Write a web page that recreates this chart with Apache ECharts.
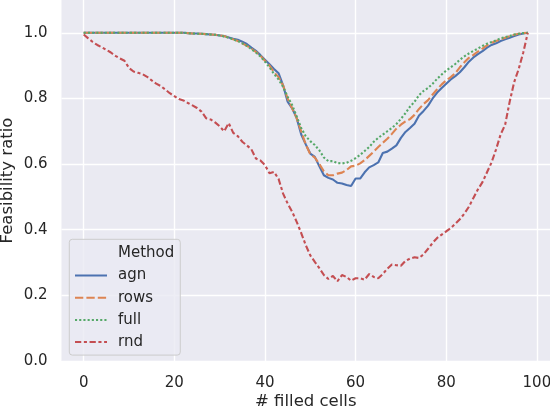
<!DOCTYPE html>
<html>
<head>
<meta charset="utf-8">
<script src="https://cdn.jsdelivr.net/npm/echarts@6/dist/echarts.min.js"></script>
<style>
html,body{margin:0;padding:0;background:#ffffff;}
#chart{width:550px;height:410px;}
</style>
</head>
<body>
<div id="chart"></div>
<script>
// # filled cells (0..98)
const cells = Array.from({length: 99}, (_, i) => i);

const agn = [
  1,1,1,1,1,1,1,1,1,1,
  1,1,1,1,1,1,1,1,1,1,
  1,1,1,0.999,0.998,0.998,0.997,0.996,0.995,0.994,
  0.992,0.99,0.986,0.982,0.979,0.973,0.966,0.955,0.945,0.932,
  0.918,0.904,0.89,0.877,0.84,0.79,0.77,0.74,0.69,0.66,
  0.632,0.622,0.593,0.566,0.558,0.553,0.543,0.541,0.536,0.533,
  0.556,0.556,0.575,0.59,0.597,0.605,0.634,0.638,0.647,0.657,
  0.68,0.698,0.71,0.723,0.748,0.762,0.778,0.8,0.818,0.832,
  0.845,0.858,0.868,0.88,0.895,0.912,0.925,0.935,0.944,0.955,
  0.963,0.968,0.975,0.98,0.985,0.99,0.995,0.998,1.0
];
const rows = [
  1,1,1,1,1,1,1,1,1,1,
  1,1,1,1,1,1,1,1,1,1,
  1,1,1,0.999,0.998,0.997,0.997,0.996,0.995,0.994,
  0.992,0.99,0.985,0.98,0.975,0.968,0.96,0.952,0.942,0.93,
  0.915,0.9,0.88,0.865,0.84,0.8,0.77,0.74,0.7,0.66,
  0.63,0.62,0.6,0.578,0.566,0.566,0.571,0.574,0.582,0.593,
  0.595,0.602,0.612,0.625,0.638,0.652,0.665,0.677,0.692,0.708,
  0.72,0.73,0.737,0.75,0.768,0.783,0.795,0.812,0.828,0.843,
  0.855,0.865,0.877,0.895,0.91,0.924,0.933,0.943,0.952,0.962,
  0.97,0.975,0.98,0.985,0.99,0.994,0.997,0.999,1.0
];
const full = [
  1,1,1,1,1,1,1,1,1,1,
  1,1,1,1,1,1,1,1,1,1,
  1,1,1,0.999,0.998,0.997,0.997,0.996,0.995,0.994,
  0.992,0.989,0.985,0.98,0.975,0.968,0.96,0.95,0.94,0.928,
  0.912,0.895,0.875,0.858,0.835,0.805,0.78,0.745,0.71,0.685,
  0.67,0.658,0.642,0.62,0.609,0.609,0.603,0.602,0.604,0.61,
  0.618,0.628,0.64,0.652,0.668,0.68,0.69,0.7,0.71,0.722,
  0.738,0.755,0.775,0.79,0.81,0.823,0.832,0.845,0.86,0.873,
  0.885,0.895,0.905,0.918,0.928,0.937,0.945,0.952,0.96,0.967,
  0.972,0.977,0.983,0.987,0.99,0.995,0.997,0.999,1.0
];
const rnd = [
  0.995,0.983,0.972,0.963,0.956,0.948,0.94,0.93,0.922,0.915,
  0.893,0.882,0.878,0.874,0.866,0.855,0.845,0.838,0.827,0.816,
  0.807,0.798,0.794,0.786,0.779,0.771,0.76,0.74,0.736,0.727,
  0.715,0.7,0.725,0.695,0.685,0.668,0.657,0.645,0.617,0.611,
  0.597,0.572,0.576,0.555,0.51,0.48,0.455,0.424,0.39,0.353,
  0.322,0.302,0.283,0.262,0.25,0.259,0.243,0.262,0.256,0.245,
  0.252,0.252,0.248,0.265,0.256,0.252,0.265,0.281,0.294,0.292,
  0.29,0.305,0.312,0.316,0.314,0.325,0.342,0.36,0.375,0.385,
  0.395,0.405,0.418,0.432,0.449,0.47,0.497,0.523,0.545,0.575,
  0.605,0.645,0.69,0.72,0.79,0.85,0.89,0.94,1.0
];

const xTicks = [0, 20, 40, 60, 80, 100];
const yTicks = [0, 0.2, 0.4, 0.6, 0.8, 1.0];
const seriesNames = ['agn', 'rows', 'full', 'rnd'];
const seriesValues = [agn, rows, full, rnd];
const colors = ['#4C72B0', '#DD8452', '#55A868', '#C44E52'];
const dashes = ['solid', [8.3, 3.1], [2.1, 2.1], [6.25, 2.6, 3.1, 2.6]];

const textColor = '#262626';
const font = 'DejaVu Sans';

const series = [{ name: 'Method', type: 'line', data: [], symbol: 'none', showSymbol: false, color: 'rgba(0,0,0,0)' }];
seriesValues.forEach((vals, k) => {
  series.push({
    name: seriesNames[k],
    type: 'line',
    data: cells.map((c, i) => [c, vals[i]]),
    symbol: 'none',
    showSymbol: false,
    color: colors[k],
    lineStyle: { color: colors[k], width: 2.1, type: dashes[k], cap: 'butt' },
    z: 2 + k
  });
});

const legendData = [{ name: 'Method', icon: 'none' }].concat(seriesNames.map(n => ({ name: n })));

const chart = echarts.init(document.getElementById('chart'), null, { renderer: 'canvas' });
chart.setOption({
  backgroundColor: '#ffffff',
  animation: false,
  color: colors,
  grid: { left: 61.5, right: 0, top: 0, bottom: 49, show: true, backgroundColor: '#EAEAF2', borderWidth: 0,
          containLabel: false, outerBoundsMode: 'none' },
  xAxis: {
    type: 'value',
    min: -4.9,
    max: 102.9,
    name: '# filled cells',
    nameLocation: 'middle',
    nameGap: 32,
    nameMoveOverlap: false,
    nameTextStyle: { fontFamily: font, fontSize: 16.5, color: textColor },
    axisLine: { show: false },
    axisTick: { show: false, customValues: xTicks },
    axisLabel: { customValues: xTicks, fontFamily: font, fontSize: 15, color: textColor, margin: 15 },
    splitLine: { show: true, lineStyle: { color: '#ffffff', width: 1.4 } }
  },
  yAxis: {
    type: 'value',
    min: 0,
    max: 1.1,
    name: 'Feasibility ratio',
    nameLocation: 'middle',
    nameGap: 45,
    nameMoveOverlap: false,
    nameTextStyle: { fontFamily: font, fontSize: 16.5, color: textColor },
    axisLine: { show: false },
    axisTick: { show: false, customValues: yTicks },
    axisLabel: { customValues: yTicks, fontFamily: font, fontSize: 15, color: textColor, margin: 14,
      formatter: v => v.toFixed(1) },
    splitLine: { show: true, lineStyle: { color: '#ffffff', width: 1.4 } }
  },
  legend: {
    show: true,
    orient: 'vertical',
    left: 69.3,
    top: 239.3,
    data: legendData,
    selectedMode: false,
    itemWidth: 32,
    itemHeight: 16,
    itemGap: 6.2,
    itemStyle: { opacity: 0 },
    padding: [6, 6, 5, 4.7],
    backgroundColor: 'rgba(234,234,242,0.8)',
    borderColor: '#cccccc',
    borderWidth: 1,
    borderRadius: 3,
    textStyle: { fontFamily: font, fontSize: 15, color: textColor, lineHeight: 16, padding: [0, 0, 0, 6] }
  },
  series: series
});
</script>
</body>
</html>
